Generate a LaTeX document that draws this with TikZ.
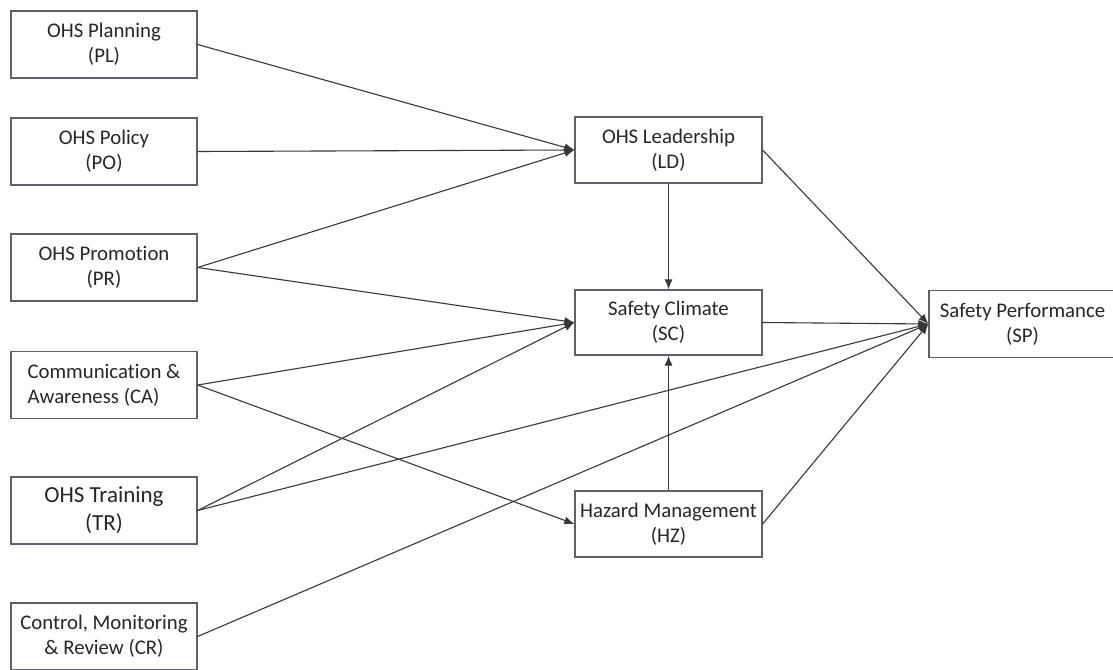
\documentclass[tikz,border=0pt]{standalone}
\usepackage{fontspec}
\setmainfont{Carlito}[Ligatures={NoCommon,NoRare}]
\usetikzlibrary{arrows.meta}
\definecolor{boxline}{RGB}{95,95,110}
\definecolor{linkline}{RGB}{55,55,55}
\begin{document}
\begin{tikzpicture}[x=1pt,y=-1pt,
  box/.style={draw=boxline,line width=1.2pt,fill=white,minimum width=186pt,minimum height=67pt,
    align=center,inner sep=0pt,font=\fontsize{20.8}{25}\selectfont,text=black!85},
  link/.style={draw=linkline,line width=1.1pt,-{Latex[length=10pt,width=8pt]}}]
\useasboundingbox (0,0) rectangle (1113,669);
% predictor boxes
\node[box] (PL) at (104,44.5) {OHS Planning\\(PL)};
\node[box] (PO) at (104,151.5) {OHS Policy\\(PO)};
\node[box] (PR) at (104,267.5) {OHS Promotion\\(PR)};
\node[box,align=left] (CA) at (104,385) {Communication \&\\Awareness (CA)};
\node[box,font=\fontsize{23}{28}\selectfont] (TR) at (104,510.5) {OHS Training\\(TR)};
\node[box] (CR) at (104,636.5) {Control, Monitoring\\\& Review (CR)};
% mediators
\node[box,minimum width=187pt,minimum height=66pt] (LD) at (668.5,150) {OHS Leadership\\(LD)};
\node[box,minimum width=187pt,minimum height=65pt] (SC) at (668.5,322.5) {Safety Climate\\(SC)};
\node[box,minimum width=187pt,minimum height=66pt] (HZ) at (668.5,524) {Hazard Management\\(HZ)};
% outcome
\node[box,minimum width=187pt] (SP) at (1022.5,324) {Safety Performance\\(SP)};
% paths
\draw[link] (PL.east) -- (LD.west);
\draw[link] (PO.east) -- (LD.west);
\draw[link] (PR.east) -- (LD.west);
\draw[link] (PR.east) -- (SC.west);
\draw[link] (CA.east) -- (SC.west);
\draw[link] (CA.east) -- (HZ.west);
\draw[link] (TR.east) -- (SC.west);
\draw[link] (TR.east) -- (SP.west);
\draw[link] (CR.east) -- (SP.west);
\draw[link] (LD.south) -- (SC.north);
\draw[link] (HZ.north) -- (SC.south);
\draw[link] (LD.east) -- (SP.west);
\draw[link] (SC.east) -- (SP.west);
\draw[link] (HZ.east) -- (SP.west);
\end{tikzpicture}
\end{document}
